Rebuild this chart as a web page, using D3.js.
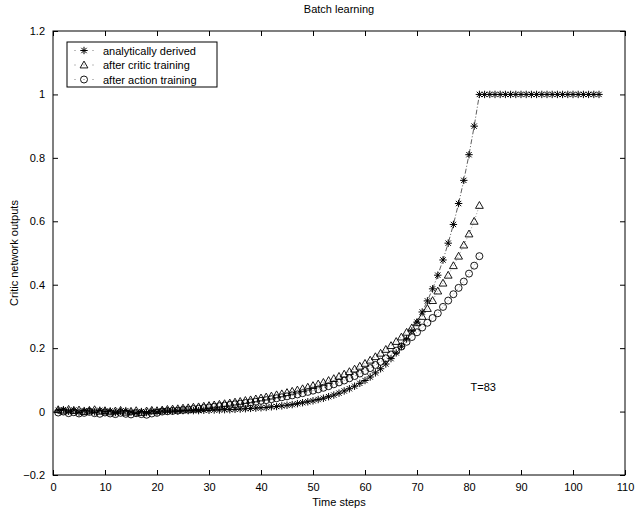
<!DOCTYPE html>
<html><head><meta charset="utf-8">
<script src="https://cdn.jsdelivr.net/npm/d3@7"></script>
<style>
body{margin:0;background:#fff;}
text{font-family:"Liberation Sans",Arial,Helvetica,sans-serif;font-size:11px;fill:#000;}
</style></head>
<body><svg id="c" width="636" height="508"></svg>
<script>
// ---- data ----
const xTicks = [0,10,20,30,40,50,60,70,80,90,100,110];
const yTicks = [-0.2,0,0.2,0.4,0.6,0.8,1,1.2];
const yTickLabels = ["\u22120.2","0","0.2","0.4","0.6","0.8","1","1.2"];
const seriesNames = ["analytically derived","after critic training","after action training"];

// time steps 1..105, analytically derived (T=83)
const analytic = [
 0.004,0.006,0.001,0.005,-0.002,0.003,0.002,-0.001,0.004,0.000,
 0.002,-0.003,0.001,0.003,-0.002,-0.004,0.000,-0.003,0.001,-0.001,
 0.002,0.002,0.002,0.002,0.003,0.003,0.003,0.003,0.004,0.004,
 0.005,0.005,0.006,0.006,0.007,0.008,0.009,0.010,0.011,0.012,
 0.013,0.015,0.016,0.018,0.020,0.022,0.025,0.028,0.031,0.034,
 0.038,0.042,0.047,0.052,0.058,0.065,0.072,0.080,0.089,0.098,
 0.109,0.122,0.135,0.150,0.167,0.185,0.206,0.229,0.254,0.282,
 0.314,0.349,0.387,0.430,0.478,0.531,0.590,0.656,0.729,0.810,
 0.900,1,1,1,1,1,1,1,1,1,
 1,1,1,1,1,1,1,1,1,1,
 1,1,1,1,1
];
// time steps 1..82
const afterCritic = [
 0.006,0.002,0.007,0.003,0.005,0.000,0.004,0.006,0.001,0.003,
 -0.001,0.002,0.004,-0.002,0.001,0.003,-0.003,0.002,0.004,0.003,
 0.005,0.007,0.008,0.009,0.011,0.012,0.014,0.015,0.017,0.019,
 0.021,0.023,0.025,0.027,0.030,0.032,0.035,0.037,0.040,0.043,
 0.046,0.049,0.053,0.056,0.060,0.064,0.068,0.072,0.077,0.082,
 0.087,0.092,0.098,0.104,0.111,0.118,0.126,0.134,0.143,0.152,
 0.162,0.173,0.184,0.196,0.208,0.221,0.235,0.250,0.264,0.280,
 0.300,0.325,0.350,0.380,0.405,0.430,0.460,0.490,0.525,0.560,
 0.600,0.650
];
const afterAction = [
 -0.003,0.000,-0.005,-0.002,-0.006,-0.004,-0.001,-0.005,-0.007,-0.003,
 -0.006,-0.008,-0.004,-0.007,-0.009,-0.005,-0.008,-0.010,-0.006,-0.004,
 0.000,0.001,0.002,0.003,0.005,0.006,0.008,0.009,0.011,0.013,
 0.015,0.017,0.019,0.021,0.023,0.025,0.027,0.029,0.031,0.034,
 0.036,0.039,0.042,0.045,0.048,0.051,0.054,0.058,0.062,0.066,
 0.070,0.075,0.080,0.086,0.092,0.098,0.105,0.112,0.120,0.128,
 0.137,0.147,0.157,0.168,0.180,0.192,0.205,0.220,0.235,0.250,
 0.265,0.280,0.295,0.310,0.330,0.350,0.370,0.390,0.410,0.435,
 0.460,0.490
];
const annotation = {text:"T=83", t:80.3, v:0.065};

// ---- chart ----
const svg = d3.select("#c");
const L=53, R=625, T=31, B=475;
const x = d3.scaleLinear().domain([0,110]).range([L,R]);
const y = d3.scaleLinear().domain([-0.2,1.2]).range([B,T]);

const tickLen = 5;
const fmtY = d => yTickLabels[yTicks.indexOf(d)];
svg.append("g").attr("transform",`translate(0,${B})`)
  .call(d3.axisBottom(x).tickValues(xTicks).tickSizeInner(-tickLen).tickSizeOuter(0).tickPadding(8))
  .call(g=>g.select(".domain").remove());
svg.append("g").attr("transform",`translate(0,${T})`)
  .call(d3.axisTop(x).tickValues(xTicks).tickSizeInner(-tickLen).tickSizeOuter(0).tickFormat(""))
  .call(g=>g.select(".domain").remove());
svg.append("g").attr("transform",`translate(${L},0)`)
  .call(d3.axisLeft(y).tickValues(yTicks).tickSizeInner(-tickLen).tickSizeOuter(0).tickPadding(8).tickFormat(fmtY))
  .call(g=>g.select(".domain").remove());
svg.append("g").attr("transform",`translate(${R},0)`)
  .call(d3.axisRight(y).tickValues(yTicks).tickSizeInner(-tickLen).tickSizeOuter(0).tickFormat(""))
  .call(g=>g.select(".domain").remove());
svg.selectAll(".tick line").attr("stroke","#000").attr("stroke-width",1);
svg.selectAll(".tick text").style("font-family","'Liberation Sans',Arial,sans-serif").style("font-size","11px").attr("fill","#000");
svg.append("rect").attr("x",L).attr("y",T).attr("width",R-L).attr("height",B-T)
  .attr("fill","none").attr("stroke","#000").attr("stroke-width",1);

svg.append("text").attr("x",(L+R)/2).attr("y",13).attr("text-anchor","middle").text("Batch learning");
svg.append("text").attr("x",(L+R)/2).attr("y",506).attr("text-anchor","middle").text("Time steps");
svg.append("text").attr("transform",`translate(18,${(T+B)/2}) rotate(-90)`).attr("text-anchor","middle").text("Critic network outputs");

function star(g,cx,cy,s){
  const p = g.append("g").attr("transform",`translate(${cx},${cy})`).attr("stroke","#000").attr("stroke-width",1).attr("fill","none");
  p.append("line").attr("x1",-s).attr("x2",s).attr("y1",0).attr("y2",0);
  p.append("line").attr("x1",0).attr("x2",0).attr("y1",-s).attr("y2",s);
  const d=s*0.72;
  p.append("line").attr("x1",-d).attr("x2",d).attr("y1",-d).attr("y2",d);
  p.append("line").attr("x1",-d).attr("x2",d).attr("y1",d).attr("y2",-d);
}
function tri(g,cx,cy,s){
  g.append("path").attr("d",`M${cx},${cy-s}L${cx+s},${cy+s*0.75}L${cx-s},${cy+s*0.75}Z`)
   .attr("fill","none").attr("stroke","#000").attr("stroke-width",0.9);
}
function circ(g,cx,cy,s){
  g.append("circle").attr("cx",cx).attr("cy",cy).attr("r",s)
   .attr("fill","none").attr("stroke","#000").attr("stroke-width",0.9);
}

const plot = svg.append("g");
const line = d3.line().x((d,i)=>x(i+1)).y(d=>y(d));
plot.append("path").datum(analytic).attr("d",line).attr("fill","none")
  .attr("stroke","#333").attr("stroke-width",0.8).attr("stroke-dasharray","5,2,1,2");
plot.append("path").datum(afterCritic).attr("d",line).attr("fill","none")
  .attr("stroke","#555").attr("stroke-width",0.6).attr("stroke-dasharray","1,2");
plot.append("path").datum(afterAction).attr("d",line).attr("fill","none")
  .attr("stroke","#555").attr("stroke-width",0.6).attr("stroke-dasharray","1,2");

afterAction.forEach((v,i)=>circ(plot,x(i+1),y(v),3.5));
afterCritic.forEach((v,i)=>tri(plot,x(i+1),y(v),3.9));
analytic.forEach((v,i)=>star(plot,x(i+1),y(v),3.7));

svg.append("text").attr("x",x(annotation.t)).attr("y",y(annotation.v)).text(annotation.text);

const lg = svg.append("g");
lg.append("rect").attr("x",67).attr("y",42).attr("width",150).attr("height",45)
  .attr("fill","#fff").attr("stroke","#000").attr("stroke-width",1);
const markers=[star,tri,circ];
const sizes=[3.7,3.9,3.5];
seriesNames.forEach((n,i)=>{
  const cy = 50.5 + i*14.5;
  lg.append("line").attr("x1",74.5).attr("x2",93.5).attr("y1",cy).attr("y2",cy)
    .attr("stroke","#555").attr("stroke-width",0.8).attr("stroke-dasharray","1,8");
  markers[i](lg,84,cy,sizes[i]);
  lg.append("text").attr("x",103).attr("y",cy+4).text(n);
});
</script></body></html>
